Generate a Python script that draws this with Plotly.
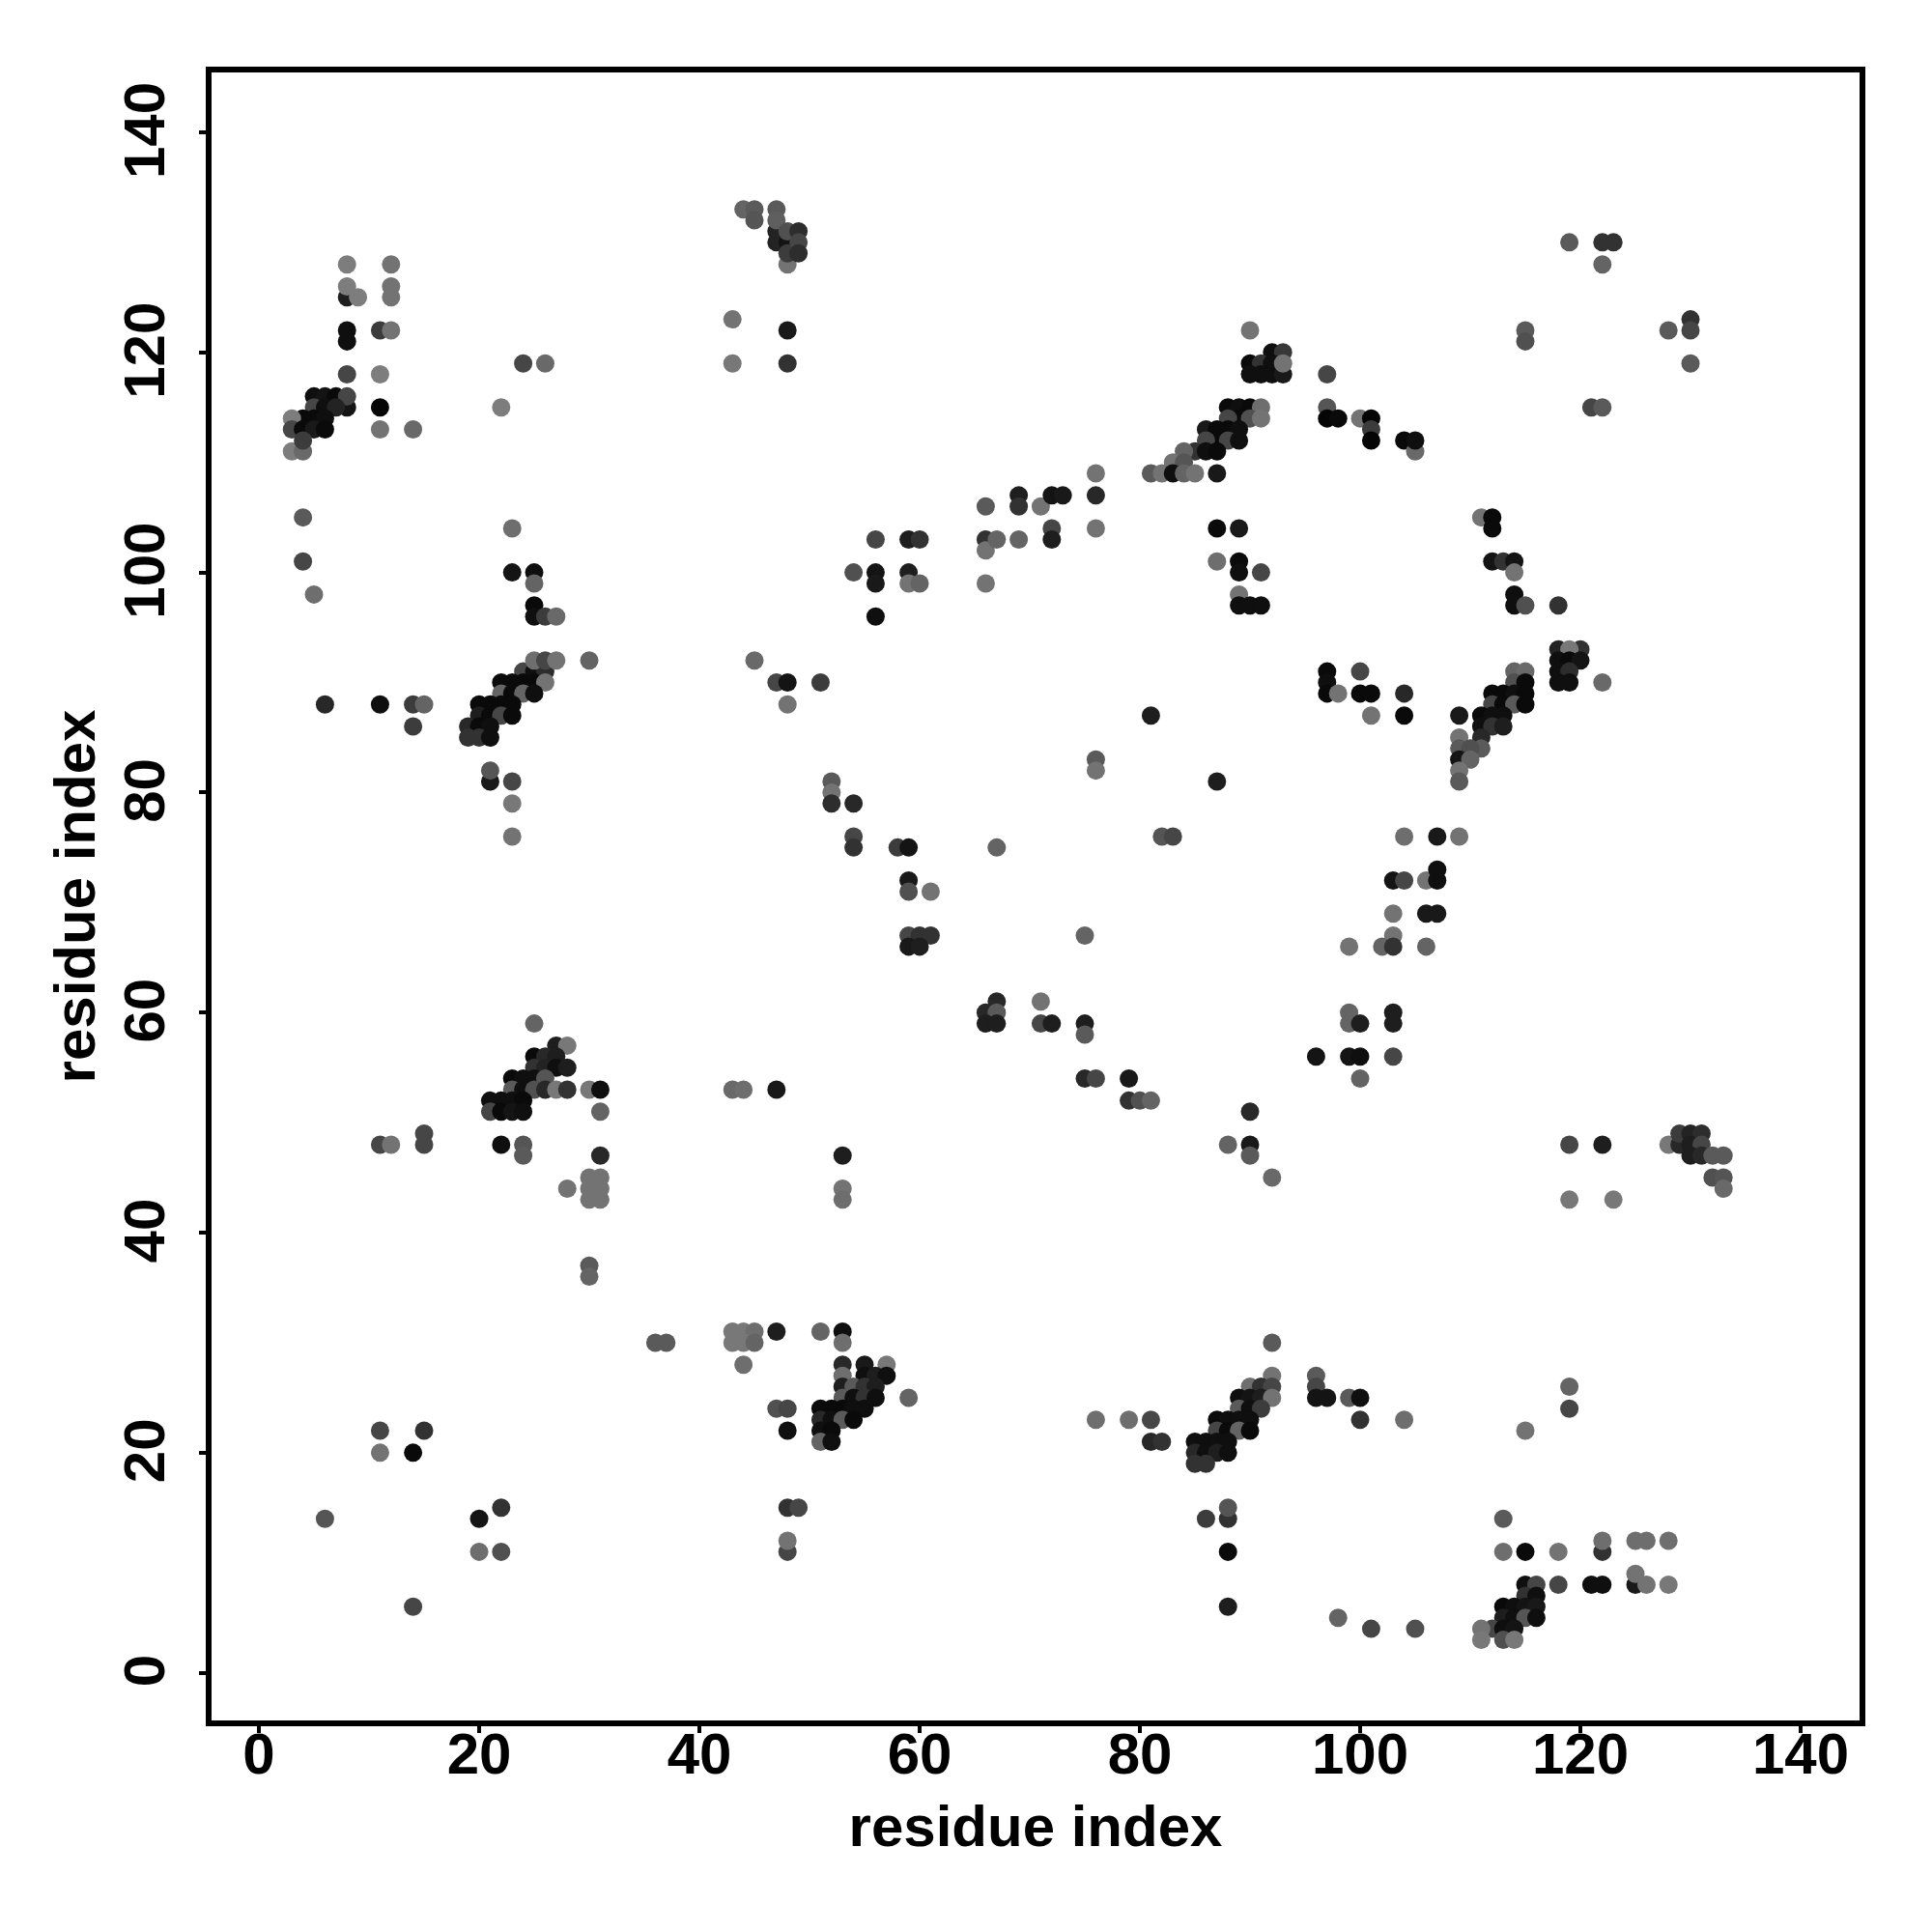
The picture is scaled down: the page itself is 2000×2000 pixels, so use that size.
import plotly.graph_objects as go

# (residue x, residue y, grey level of the contact)
contacts_top_left = [(8,128,125),(12,128,115),(8,125,30),(8,126,125),(9,125,125),(12,126,115),(12,125,115),
 (8,122,15),(8,121,15),(11,122,60),(12,122,115),(8,118,70),(11,118,125),(24,119,70),(26,119,105),(22,115,125),(11,115,5),
 (5,116,15),(6,116,20),(7,116,10),(8,115,20),(8,116,70),(5,115,70),(6,115,15),(7,115,35),(4,114,10),(5,114,10),(6,114,15),(3,114,125),
 (3,113,70),(4,113,10),(5,113,25),(6,113,10),(11,113,115),(14,113,105),(3,111,125),(4,111,105),(4,112,60),
 (4,105,90),(4,101,70),(5,98,110)]
contacts_left_88 = [(23,104,110),(23,100,20),(25,100,15),(25,99,100),(25,97,10),(25,96,15),(26,96,60),(27,96,105),
 (24,91,70),(25,91,15),(26,91,45),(25,92,110),(26,92,70),(27,92,115),(30,92,100),(22,90,10),(23,90,10),(24,90,10),(25,90,10),(26,90,115),
 (22,89,100),(23,89,10),(24,89,100),(25,89,15),(20,88,10),(21,88,10),(22,88,10),(23,88,10),(20,87,30),(21,87,10),(22,87,70),(23,87,10),
 (19,86,40),(20,86,10),(21,86,15),(19,85,50),(20,85,50),(21,85,15),(21,81,25),(21,82,85),(23,81,70),(23,79,120),(23,76,115),
 (6,88,40),(11,88,15),(14,88,60),(15,88,100),(14,86,60)]
contacts_top_mid = [(44,133,100),(45,133,90),(45,132,85),(47,131,35),(47,130,35),(47,133,90),(47,132,95),(48,130,20),(48,131,80),(48,128,115),(48,129,60),
 (49,131,45),(49,130,70),(49,129,45),(43,123,115),(43,119,120),(48,122,25),(48,119,50)]
contacts_top_right = [(119,130,90),(122,130,50),(123,130,50),(122,128,100),(115,122,90),(115,121,80),(128,122,90),(130,123,50),(130,122,70),(130,119,90),(121,115,70),(122,115,90)]
contacts_ridge_upper = [(90,122,115),(92,120,15),(93,120,55),(90,119,10),(91,119,50),(92,119,15),(90,118,15),(91,118,15),(92,118,15),(93,118,25),(93,119,115),
 (97,118,70),(88,115,10),(89,115,15),(90,115,10),(91,115,110),(97,115,85),(89,114,10),(88,114,70),(90,114,80),(91,114,115),(97,114,5),(98,114,10),(100,114,115),(101,114,5),
 (101,113,60),(101,112,5),(104,112,10),(105,111,105),(105,112,15),(86,113,25),(87,113,10),(88,113,10),(89,113,15),(87,112,10),(86,112,70),(88,112,70),(89,112,15),
 (85,111,50),(86,111,15),(87,111,10),(84,111,100),(83,110,115),(84,110,85),(81,109,90),(82,109,115),(83,109,15),(84,109,100),(85,109,115),(87,109,25)]
contacts_upper_mid = [(66,106,90),(69,107,30),(69,106,50),(71,106,115),(72,107,20),(73,107,25),(76,109,115),(76,107,40),(66,103,50),(66,102,115),(67,103,100),(69,103,100),(72,104,70),(72,103,30),(76,104,115),(66,99,115),
 (56,103,70),(59,103,30),(60,103,50),(54,100,80),(56,100,20),(56,99,25),(59,100,30),(59,99,115),(60,99,100),(56,96,15),
 (87,104,10),(89,104,25),(87,101,110),(89,101,10),(89,100,15),(91,100,70),(89,98,115),(89,97,15),(90,97,15),(91,97,15),
 (111,105,115),(112,105,10),(112,104,10),(112,101,20),(113,101,50),(114,101,20),(114,100,115),(114,98,15),(114,97,15),(115,97,80),(118,97,50),
 (45,92,105),(47,90,70),(48,90,20),(48,88,115),(51,90,60)]
contacts_ridge_right = [(118,93,35),(120,93,50),(119,93,120),(118,92,15),(119,92,10),(120,92,20),(118,91,15),(119,91,45),(118,90,15),(119,90,15),(122,90,105),
 (114,91,100),(115,91,105),(114,90,80),(115,90,10),(112,89,10),(113,89,10),(114,89,15),(115,89,10),(112,88,70),(113,88,10),(114,88,90),(115,88,10),
 (111,87,10),(112,87,15),(113,87,15),(109,87,25),(111,86,15),(112,86,50),(113,86,30),(109,85,115),(111,85,40),(109,84,90),(111,84,90),(110,84,80),(109,83,20),(110,83,100),(109,82,115),(109,81,90),
 (81,87,30),(76,83,90),(76,82,115),(87,81,30),(97,91,10),(97,90,15),(97,89,10),(98,89,115),(100,91,70),(100,89,10),(101,89,10),(104,89,40),(104,87,10),(101,87,115)]
contacts_centre = [(52,81,90),(52,80,115),(52,79,45),(54,79,40),(54,76,70),(54,75,50),(58,75,60),(59,75,20),(59,72,25),(59,71,80),(61,71,115),(59,67,70),(60,67,50),(61,67,50),(59,66,25),(60,66,30),
 (67,75,100),(82,76,85),(83,76,70),(104,76,110),(107,76,25),(109,76,115),(103,72,20),(104,72,70),(106,72,115),(107,73,15),(107,72,15),(103,69,115),(106,69,25),(107,69,25),(103,67,115),(102,66,100),(103,66,50),(106,66,100),(75,67,100),(99,66,115),
 (66,60,40),(67,61,40),(67,60,90),(66,59,30),(67,59,30),(71,61,115),(71,59,70),(72,59,30),(75,59,30),(75,58,90),(99,60,100),(99,59,100),(100,59,30),(103,60,30),(103,59,30),(96,56,20),(99,56,20),(100,56,15),(103,56,70),(100,54,100),
 (75,54,40),(76,54,70),(79,54,25),(79,52,50),(80,52,80),(81,52,100),(90,51,40),(88,48,100),(90,48,25),(90,47,90),(92,45,105)]
contacts_left_53 = [(25,59,100),(27,57,30),(28,57,120),(25,56,10),(26,56,40),(27,56,30),(25,55,50),(26,55,35),(27,55,15),(28,55,30),(23,54,10),(24,54,15),(25,54,15),(26,54,85),
 (23,53,90),(24,53,15),(25,53,80),(26,53,40),(27,53,120),(28,53,50),(30,53,120),(31,53,15),(21,52,15),(22,52,15),(23,52,15),(24,52,10),(21,51,70),(22,51,10),(23,51,20),(24,51,15),(31,51,100),
 (22,48,15),(24,48,85),(24,47,90),(31,47,40),(47,53,25),(43,53,105),(44,53,110),(11,48,70),(12,48,115),(15,49,70),(15,48,70),(28,44,115),(30,45,115),(31,45,115),(30,44,115),(31,44,115),(30,43,115),(31,43,115),
 (30,37,90),(30,36,100),(53,47,30),(53,44,115),(53,43,110),(119,48,70),(122,48,30),(119,43,120),(123,43,120)]
contacts_right_48 = [(128,48,120),(129,48,40),(129,49,60),(130,49,35),(131,49,45),(130,48,30),(131,48,70),(130,47,30),(131,47,40),(132,47,90),(133,47,90),(132,45,80),(133,45,85),(133,44,105)]
contacts_low_mid = [(36,30,90),(37,30,90),(43,31,120),(44,31,120),(45,31,110),(43,30,120),(44,30,120),(45,30,100),(44,28,110),(47,31,30),(47,24,80),(48,24,70),(48,22,15),(51,31,100),(53,31,15),(53,30,110),(59,25,100),
 (53,28,40),(55,28,25),(57,28,120),(55,27,15),(56,27,30),(57,27,15),(53,27,110),(53,26,30),(54,26,90),(55,26,50),(56,26,30),(53,25,90),(54,25,15),(55,25,50),(56,25,15),
 (51,24,10),(52,24,10),(53,24,10),(54,24,15),(55,24,15),(51,23,40),(52,23,15),(53,23,90),(54,23,10),(51,22,15),(52,22,10),(51,21,100),(52,21,15)]
contacts_low_ridge = [(92,30,90),(92,27,115),(90,26,110),(91,26,50),(92,26,70),(89,25,15),(90,25,20),(91,25,30),(92,25,115),(89,24,90),(90,24,15),(91,24,60),(87,23,10),(88,23,15),(89,23,15),(90,23,15),
 (87,22,70),(88,22,10),(89,22,100),(90,22,10),(85,21,15),(86,21,15),(87,21,15),(88,21,15),(85,20,40),(86,20,15),(87,20,30),(88,20,15),(85,19,50),(86,19,50),
 (96,27,90),(96,26,70),(96,25,20),(97,25,20),(99,25,90),(100,25,15),(100,23,50),(104,23,110),(76,23,110),(79,23,110),(81,23,70),(81,21,40),(82,21,50),(115,22,115),(119,26,100),(119,24,70)]
contacts_bottom = [(11,22,70),(11,20,115),(14,20,10),(15,22,50),(6,14,85),(20,14,20),(22,15,50),(20,11,110),(22,11,80),(14,6,70),(48,15,50),(49,15,70),(48,11,70),(48,12,115),
 (86,14,60),(88,14,50),(88,15,85),(88,11,10),(88,6,30),(98,5,100),(101,4,70),(105,4,80),(113,14,90),(113,11,110),(115,11,10),(118,11,115),(122,11,50),(122,12,110),(125,12,110),(126,12,110),(128,12,110),
 (115,8,15),(116,8,70),(118,8,70),(121,8,15),(122,8,15),(125,8,25),(126,8,115),(125,9,115),(128,8,120),(115,7,50),(116,7,15),(113,6,10),(114,6,15),(115,6,20),(116,6,25),
 (113,5,30),(114,5,15),(115,5,85),(116,5,15),(112,4,70),(111,4,115),(113,4,15),(114,4,20),(111,3,120),(113,3,80),(114,3,120)]

tick_values = [0, 20, 40, 60, 80, 100, 120, 140]
axis_title = "residue index"

contacts = (contacts_top_left + contacts_left_88 + contacts_top_mid + contacts_top_right + contacts_ridge_upper
            + contacts_upper_mid + contacts_ridge_right + contacts_centre + contacts_left_53 + contacts_right_48
            + contacts_low_mid + contacts_low_ridge + contacts_bottom)
xs = [c[0] for c in contacts]
ys = [c[1] for c in contacts]
cols = [f"rgb({c[2]},{c[2]},{c[2]})" for c in contacts]

fig = go.Figure(go.Scatter(x=xs, y=ys, mode="markers",
                           marker=dict(size=19, color=cols, line=dict(width=0), opacity=1),
                           showlegend=False, hoverinfo="x+y"))

TICK_FONT = dict(family="Liberation Sans", size=60, color="black", weight="bold")
TITLE_FONT = dict(family="Liberation Sans", size=60, color="black", weight="bold")
common = dict(tickvals=tick_values, ticks="outside", ticklen=7, tickwidth=4, tickcolor="black",
              showline=True, linewidth=6, linecolor="black", mirror=True, showgrid=False, zeroline=False,
              tickfont=TICK_FONT)
fig.update_xaxes(range=[-4.3, 145.35], title=dict(text=axis_title, font=TITLE_FONT, standoff=23),
                 ticklabelstandoff=-30, **common)
fig.update_yaxes(range=[-4.33, 145.44], title=dict(text=axis_title, font=TITLE_FONT, standoff=0),
                 tickangle=-90, ticklabelstandoff=12, ticklabelshift=7, **common)
fig.update_layout(width=2000, height=2000, autosize=False, paper_bgcolor="white", plot_bgcolor="white",
                  margin=dict(l=211, r=83, t=67, b=227, autoexpand=False))
fig.write_html("out.html")
